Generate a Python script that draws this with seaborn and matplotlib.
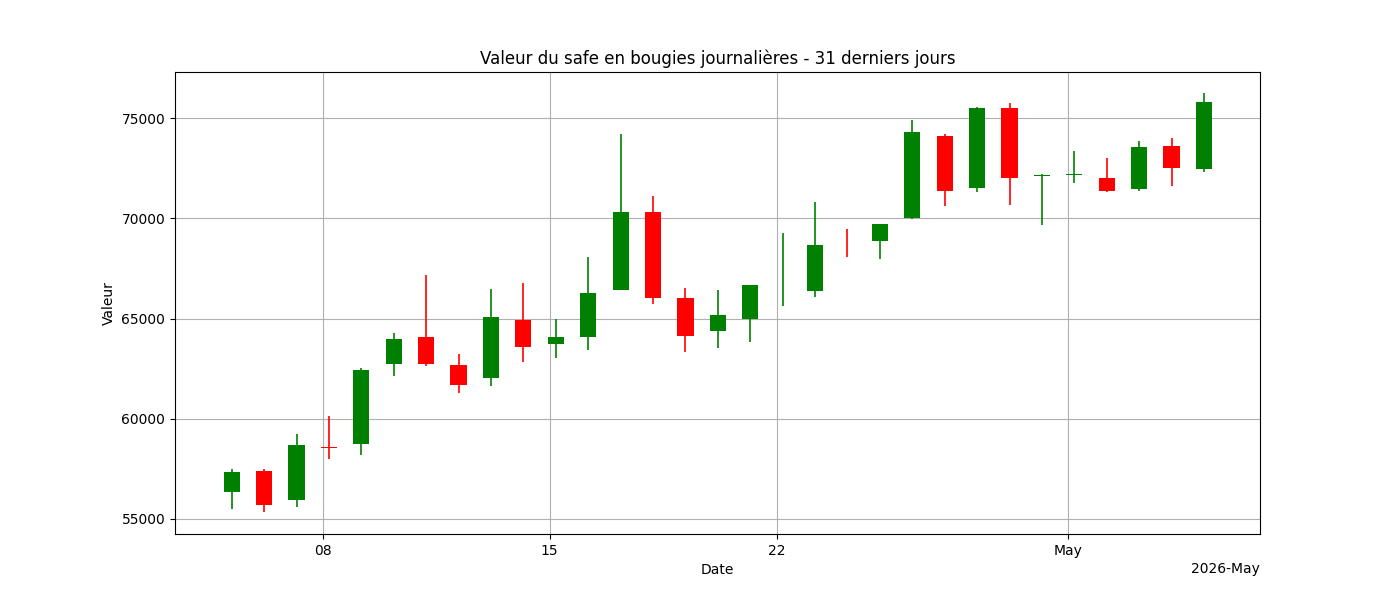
import pandas as pd
import numpy as np
import matplotlib
matplotlib.use('Agg')
import matplotlib.pyplot as plt
import matplotlib.dates as mdates
import seaborn as sns

sns.reset_orig()

dates = pd.date_range('2026-04-05 04:30', periods=31, freq='D')
opens = [56350, 57394, 55948, 58560, 58741, 62730, 64077, 62680, 62032, 64925,
         63728, 64077, 66421, 70311, 66022, 64377, 64975, 67000, 66371, 68915,
         68865, 70012, 74102, 71509, 75499, 72107, 72157, 72007, 71459, 73603, 72456]
closes = [57344, 55698, 58691, 58540, 62431, 63977, 62730, 61683, 65075, 63578,
          64077, 66272, 70311, 66022, 64127, 65174, 66671, 67000, 68666, 68900,
          69713, 74302, 71359, 75499, 72007, 72107, 72157, 71359, 73553, 72506, 75798]
highs = [57494, 57494, 59239, 60137, 62531, 64277, 67170, 63229, 66471, 66771,
         64975, 68067, 74202, 71110, 66521, 66421, 66671, 69264, 70810, 69463,
         69713, 74900, 74202, 75549, 75748, 72207, 73354, 73005, 73853, 74003, 76247]
lows = [55499, 55349, 55599, 57993, 58192, 62132, 62631, 61284, 61633, 62830,
        63030, 63429, 66421, 65723, 63329, 63529, 63828, 65623, 66072, 68067,
        67968, 69962, 70611, 71309, 70661, 69663, 71758, 71309, 71359, 71608, 72306]

df = pd.DataFrame({'date': dates, 'open': opens, 'close': closes, 'high': highs, 'low': lows})
df['color'] = np.where(df['close'] >= df['open'], 'green', 'red')

fig, ax = plt.subplots(figsize=(14, 6), dpi=100)
ax.vlines(df['date'], df['low'], df['high'], color=df['color'], linewidth=1.2, zorder=2)
bottoms = df[['open', 'close']].min(axis=1)
heights = (df['close'] - df['open']).abs()
heights = heights.where(heights > 40, 40)
ax.bar(df['date'], heights, bottom=bottoms, width=0.5, color=df['color'], zorder=3)

ax.set_xlim(pd.Timestamp('2026-04-03 10:30'), pd.Timestamp('2026-05-06 22:00'))
ax.set_ylim(54250, 77300)
loc = mdates.DayLocator(bymonthday=[1, 8, 15, 22])
ax.xaxis.set_major_locator(loc)
ax.xaxis.set_major_formatter(mdates.ConciseDateFormatter(loc))
ax.grid(True, zorder=0)
ax.set_axisbelow(True)
ax.set_title('Valeur du safe en bougies journalières - 31 derniers jours')
ax.set_xlabel('Date')
ax.set_ylabel('Valeur')
fig.savefig('out.png')
